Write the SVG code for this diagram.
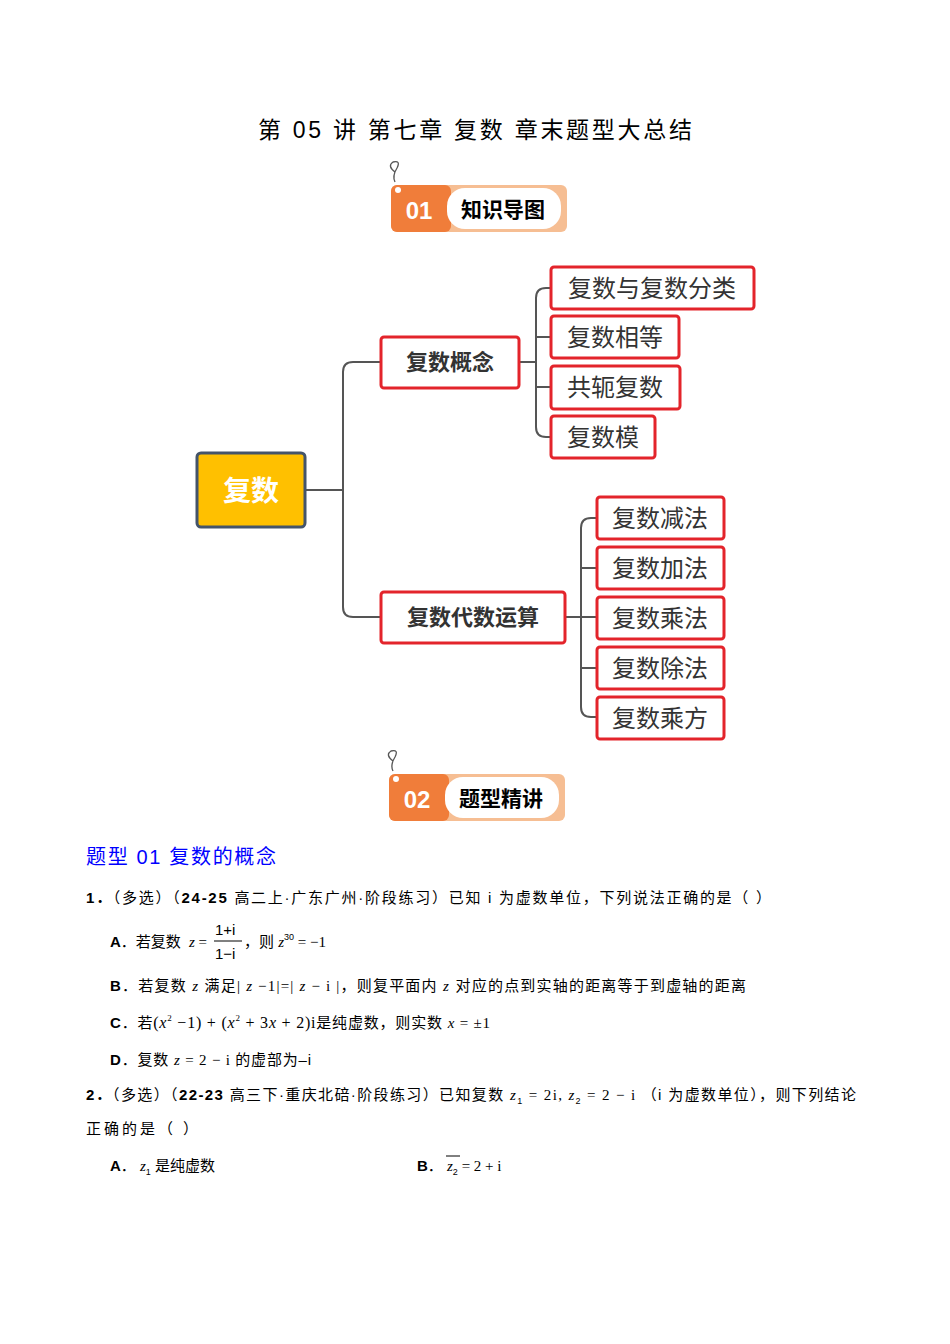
<svg xmlns="http://www.w3.org/2000/svg" width="950" height="1344" viewBox="0 0 950 1344">
<style>
text{font-family:"Liberation Sans","Noto Sans CJK SC",sans-serif;fill:#000}
.n{fill:#fff;stroke:#E3242B;stroke-width:3}
.t{font-size:24px;fill:#333}
.tb{font-size:22px;font-weight:bold;fill:#333}
.c{fill:none;stroke:#555;stroke-width:2}
.q{font-size:15px}
.m{font-family:"Liberation Serif","Noto Sans CJK SC",serif;font-style:italic;font-size:15px}
.b{font-weight:bold}
</style>
<rect width="950" height="1344" fill="#fff"/>
<text x="258" y="138" textLength="434" lengthAdjust="spacing" font-size="23" font-family="Liberation Serif,Noto Sans CJK SC,serif">第 05 讲 第七章  复数  章末题型大总结</text>

<g id="badge1">
<path d="M395 172 q-8 -6 -2 -10 q8 -2 4 6 q-5 8 -2 14" fill="none" stroke="#555" stroke-width="1.3"/>
<rect x="391" y="185" width="176" height="47" rx="6" fill="#F6BE93"/>
<rect x="391" y="185" width="60" height="47" rx="6" fill="#F07D3A"/>
<rect x="447" y="188" width="114" height="41" rx="18" fill="#fff"/>
<circle cx="398" cy="190" r="3" fill="#fff"/>
<text x="419" y="219" text-anchor="middle" font-size="24" font-weight="bold" style="fill:#fff">01</text>
<text x="503" y="217" text-anchor="middle" font-size="21" font-weight="bold">知识导图</text>
</g>

<g id="connectors">
<path class="c" d="M305 490 H343 M381 362 H353 q-10 0 -10 10 V607 q0 10 10 10 H381"/>
<path class="c" d="M519 362 H536 M551 288 H546 q-10 0 -10 10 V427 q0 10 10 10 H551 M536 337 H551 M536 387 H551"/>
<path class="c" d="M565 617 H581 M597 518 H591 q-10 0 -10 10 V707 q0 10 10 10 H597 M581 568 H597 M581 617 H597 M581 668 H597"/>
</g>

<g id="root"><rect x="197" y="453" width="108" height="74" rx="4" fill="#FFC000" stroke="#44546A" stroke-width="3"/><text x="251" y="501" text-anchor="middle" font-size="28" font-weight="bold" style="fill:#fff">复数</text></g>
<g id="n1"><rect class="n" x="381" y="337" width="138" height="51" rx="3"/><text class="tb" x="450" y="370" text-anchor="middle">复数概念</text></g>
<g id="n2"><rect class="n" x="381" y="592" width="184" height="51" rx="3"/><text class="tb" x="473" y="625" text-anchor="middle">复数代数运算</text></g>
<g id="n11"><rect class="n" x="551" y="267" width="203" height="42" rx="3"/><text class="t" x="652" y="297" text-anchor="middle">复数与复数分类</text></g>
<g id="n12"><rect class="n" x="551" y="316" width="128" height="42" rx="3"/><text class="t" x="615" y="346" text-anchor="middle">复数相等</text></g>
<g id="n13"><rect class="n" x="551" y="366" width="129" height="43" rx="3"/><text class="t" x="615" y="396" text-anchor="middle">共轭复数</text></g>
<g id="n14"><rect class="n" x="551" y="416" width="104" height="42" rx="3"/><text class="t" x="603" y="446" text-anchor="middle">复数模</text></g>
<g id="n21"><rect class="n" x="597" y="497" width="127" height="42" rx="3"/><text class="t" x="660" y="527" text-anchor="middle">复数减法</text></g>
<g id="n22"><rect class="n" x="597" y="547" width="127" height="42" rx="3"/><text class="t" x="660" y="577" text-anchor="middle">复数加法</text></g>
<g id="n23"><rect class="n" x="597" y="597" width="127" height="42" rx="3"/><text class="t" x="660" y="627" text-anchor="middle">复数乘法</text></g>
<g id="n24"><rect class="n" x="597" y="647" width="127" height="42" rx="3"/><text class="t" x="660" y="677" text-anchor="middle">复数除法</text></g>
<g id="n25"><rect class="n" x="597" y="697" width="127" height="42" rx="3"/><text class="t" x="660" y="727" text-anchor="middle">复数乘方</text></g>

<g id="badge2">
<path d="M393 761 q-8 -6 -2 -10 q8 -2 4 6 q-5 8 -2 14" fill="none" stroke="#555" stroke-width="1.3"/>
<rect x="389" y="774" width="176" height="47" rx="6" fill="#F6BE93"/>
<rect x="389" y="774" width="60" height="47" rx="6" fill="#F07D3A"/>
<rect x="445" y="777" width="114" height="41" rx="18" fill="#fff"/>
<circle cx="396" cy="779" r="3" fill="#fff"/>
<text x="417" y="808" text-anchor="middle" font-size="24" font-weight="bold" style="fill:#fff">02</text>
<text x="501" y="806" text-anchor="middle" font-size="21" font-weight="bold">题型精讲</text>
</g>

<text x="86" y="864" font-size="20" textLength="190" lengthAdjust="spacing" style="fill:#0000FF">题型 01 复数的概念</text>
<text class="q" x="86" y="903" textLength="685" lengthAdjust="spacing"><tspan class="b">1．</tspan>（多选）（<tspan class="b">24-25</tspan> 高二上·广东广州·阶段练习）已知 i 为虚数单位，下列说法正确的是（    ）</text>
<text class="q" x="110" y="947"><tspan class="b">A</tspan>．若复数</text>
<text class="m" x="189" y="947">z <tspan font-style="normal">=</tspan></text>
<text x="215" y="935" font-size="15" font-family="Liberation Serif,serif">1+i</text>
<line x1="214" y1="941" x2="242" y2="941" stroke="#000"/>
<text x="215" y="959" font-size="15" font-family="Liberation Serif,serif">1−i</text>
<text class="q" x="244" y="947">，则 <tspan class="m">z</tspan><tspan font-size="9" dy="-7">30</tspan><tspan dy="7" font-family="Liberation Serif,serif"> = −1</tspan></text>
<text class="q" x="110" y="991" textLength="636" lengthAdjust="spacing"><tspan class="b">B</tspan>．若复数 <tspan class="m">z</tspan> 满足<tspan font-family="Liberation Serif,serif">| <tspan font-style="italic">z</tspan> −1|=| <tspan font-style="italic">z</tspan> − i |</tspan>，则复平面内 <tspan class="m">z</tspan> 对应的点到实轴的距离等于到虚轴的距离</text>
<text class="q" x="110" y="1028" textLength="380" lengthAdjust="spacing"><tspan class="b">C</tspan>．若<tspan font-family="Liberation Serif,serif" font-size="16">(<tspan font-style="italic">x</tspan><tspan font-size="9" dy="-7">2</tspan><tspan dy="7"> −1) + (</tspan><tspan font-style="italic">x</tspan><tspan font-size="9" dy="-7">2</tspan><tspan dy="7"> + 3<tspan font-style="italic">x</tspan> + 2)i</tspan></tspan>是纯虚数，则实数 <tspan class="m">x</tspan><tspan font-family="Liberation Serif,serif"> = ±1</tspan></text>
<text class="q" x="110" y="1065" textLength="201" lengthAdjust="spacing"><tspan class="b">D</tspan>．复数 <tspan class="m">z</tspan><tspan font-family="Liberation Serif,serif"> = 2 − i </tspan>的虚部为–i</text>
<text class="q" x="86" y="1100" textLength="770" lengthAdjust="spacing"><tspan class="b">2．</tspan>（多选）（<tspan class="b">22-23</tspan> 高三下·重庆北碚·阶段练习）已知复数 <tspan class="m">z</tspan><tspan font-size="9" dy="4">1</tspan><tspan dy="-4" font-family="Liberation Serif,serif"> = 2i, </tspan><tspan class="m">z</tspan><tspan font-size="9" dy="4">2</tspan><tspan dy="-4" font-family="Liberation Serif,serif"> = 2 − i </tspan>（i 为虚数单位），则下列结论</text>
<text class="q" x="86" y="1134" textLength="112" lengthAdjust="spacing">正确的是（    ）</text>
<text class="q" x="110" y="1171"><tspan class="b">A</tspan>． <tspan class="m">z</tspan><tspan font-size="9" dy="4">1</tspan><tspan dy="-4"> 是纯虚数</tspan></text>
<text class="q" x="417" y="1171"><tspan class="b">B</tspan>． <tspan class="m">z</tspan><tspan font-size="9" dy="4">2</tspan><tspan dy="-4" font-family="Liberation Serif,serif"> = 2 + i</tspan></text>
<line x1="446" y1="1156" x2="460" y2="1156" stroke="#000"/>
</svg>
